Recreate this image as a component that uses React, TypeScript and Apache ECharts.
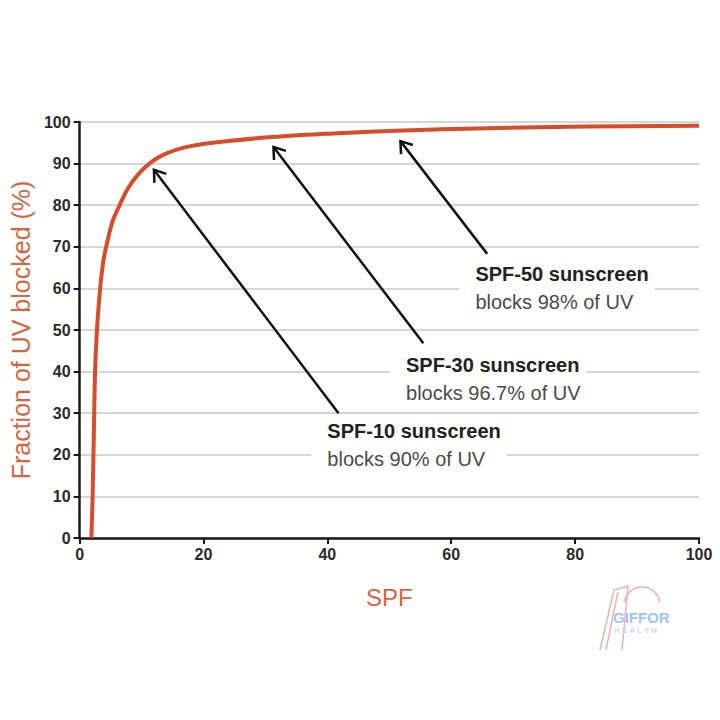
import React, { useEffect, useRef } from "react";
import * as echarts from "echarts";

const spfValues = [1.9, 2.1, 2.3, 2.5, 2.8, 3.2, 3.6, 4.0, 4.6, 5.3, 6.3, 8.0, 10.5, 13.5, 17.9, 24.4, 32.4, 40.5, 51, 66, 82, 100];
const blockedValues = [0, 10, 25, 40, 50, 58, 64, 68, 72, 76, 79.5, 84.5, 89, 92.1, 94.2, 95.5, 96.5, 97.2, 97.9, 98.5, 98.9, 99.1];

const xTicks = [0, 20, 40, 60, 80, 100];
const yTicks = [0, 10, 20, 30, 40, 50, 60, 70, 80, 90, 100];

const labelTitles = ["SPF-10 sunscreen", "SPF-30 sunscreen", "SPF-50 sunscreen"];
const labelLines = ["blocks 90% of UV", "blocks 96.7% of UV", "blocks 98% of UV"];
// annotation anchors in data coordinates: arrow tip, arrow tail, text anchor (left, middle)
const arrowTips = [[12, 88.5], [31.3, 94], [51.8, 95.4]];
const arrowTails = [[41.8, 30], [55.5, 46.8], [65.8, 68.3]];
const textAnchors = [[40, 22.4], [52.7, 38.2], [63.9, 60.1]];

const CURVE = "#d84b2b";
const AXIS_NAME = "#d6653f";

export default function App() {
  const ref = useRef<HTMLDivElement>(null);
  useEffect(() => {
    if (!ref.current) return;
    const chart = echarts.init(ref.current, undefined, { renderer: "svg" });
    const data = spfValues.map((x, i) => [x, blockedValues[i]]);
    chart.setOption({
      animation: false,
      backgroundColor: "#ffffff",
      grid: { left: 79, right: 21, top: 122, bottom: 182, containLabel: false },
      xAxis: {
        type: "value",
        min: 0,
        max: 100,
        interval: 20,
        name: "SPF",
        nameLocation: "middle",
        nameGap: 47,
        nameTextStyle: { color: AXIS_NAME, fontSize: 24, fontFamily: "Liberation Sans" },
        axisLine: { show: true, lineStyle: { color: "#1a1a1a", width: 2.5 } },
        axisTick: { show: true, length: 6, lineStyle: { color: "#1a1a1a", width: 2 } },
        axisLabel: {
          color: "#2a2a2a",
          fontSize: 16,
          fontWeight: "bold",
          fontFamily: "Liberation Sans",
          margin: 8,
          formatter: (v: number) => (xTicks.includes(v) ? String(v) : ""),
        },
        splitLine: { show: false },
      },
      yAxis: {
        type: "value",
        min: 0,
        max: 100,
        interval: 10,
        name: "Fraction of UV blocked (%)",
        nameLocation: "middle",
        nameGap: 46,
        nameTextStyle: { color: AXIS_NAME, fontSize: 25, fontFamily: "Liberation Sans" },
        axisLine: { show: true, lineStyle: { color: "#1a1a1a", width: 2.5 } },
        axisTick: { show: true, length: 6, lineStyle: { color: "#1a1a1a", width: 2 } },
        axisLabel: {
          color: "#2a2a2a",
          fontSize: 16,
          fontWeight: "bold",
          fontFamily: "Liberation Sans",
          margin: 9,
          formatter: (v: number) => (yTicks.includes(v) ? String(v) : ""),
        },
        splitLine: { show: true, lineStyle: { color: "#d6d6d6", width: 2 } },
      },
      series: [
        {
          type: "line",
          data,
          smooth: 0.4,
          showSymbol: false,
          lineStyle: { color: CURVE, width: 4 },
          z: 3,
        },
      ],
    });

    const px = (p: number[]) => chart.convertToPixel({ gridIndex: 0 }, p) as number[];
    const graphics: any[] = [];
    arrowTips.forEach((tip, i) => {
      const t = px(tip);
      const s = px(arrowTails[i]);
      const dx = t[0] - s[0];
      const dy = t[1] - s[1];
      const len = Math.hypot(dx, dy);
      const ux = -dx / len;
      const uy = -dy / len;
      const ang = (35 * Math.PI) / 180;
      const L = 13;
      const rot = (a: number) => [
        t[0] + L * (ux * Math.cos(a) - uy * Math.sin(a)),
        t[1] + L * (ux * Math.sin(a) + uy * Math.cos(a)),
      ];
      graphics.push({
        type: "line",
        shape: { x1: s[0], y1: s[1], x2: t[0], y2: t[1] },
        style: { stroke: "#111", lineWidth: 2.5 },
        z: 10,
      });
      graphics.push({
        type: "polyline",
        shape: { points: [rot(ang), t, rot(-ang)] },
        style: { stroke: "#111", lineWidth: 2.5, fill: null },
        z: 10,
      });
      const a = px(textAnchors[i]);
      graphics.push({
        type: "text",
        x: a[0] - 16,
        y: a[1],
        z: 11,
        style: {
          text: `{b|${labelTitles[i]}}\n{n|${labelLines[i]}}`,
          align: "left",
          verticalAlign: "middle",
          backgroundColor: "#ffffff",
          padding: [0, 6, 0, 16],
          rich: {
            b: { fontSize: 20, fontWeight: "bold", fill: "#222222", fontFamily: "Liberation Sans", lineHeight: 28 },
            n: { fontSize: 20, fill: "#4a4a4a", fontFamily: "Liberation Sans", lineHeight: 28 },
          },
        },
      });
    });

    // faint watermark
    graphics.push({
      type: "polyline",
      shape: { points: [[600, 650], [614, 590], [628, 586], [622, 650]] },
      style: { stroke: "#f1b0ae", lineWidth: 1.5, fill: null },
      z: 1,
    });
    graphics.push({
      type: "polyline",
      shape: { points: [[606, 650], [618, 592]] },
      style: { stroke: "#f1b0ae", lineWidth: 1.5, fill: null },
      z: 1,
    });
    graphics.push({
      type: "arc",
      shape: { cx: 642, cy: 605, r: 18, startAngle: Math.PI * 1.05, endAngle: Math.PI * 1.95 },
      style: { stroke: "#f1b0ae", lineWidth: 1.5, fill: null },
      z: 1,
    });
    graphics.push({
      type: "text",
      x: 613,
      y: 617,
      z: 1,
      style: { text: "GIFFOR", fill: "#a3c5ec", fontSize: 15, fontWeight: "bold", fontFamily: "Liberation Sans", verticalAlign: "middle" },
    });
    graphics.push({
      type: "text",
      x: 614,
      y: 630,
      z: 1,
      style: { text: "H E A L T H", fill: "#c6dbf2", fontSize: 8, fontWeight: "bold", fontFamily: "Liberation Sans", verticalAlign: "middle" },
    });

    chart.setOption({ graphic: graphics });
    return () => chart.dispose();
  }, []);
  return <div ref={ref} style={{ position: "fixed", left: 0, top: 0, width: 720, height: 720 }} />;
}
